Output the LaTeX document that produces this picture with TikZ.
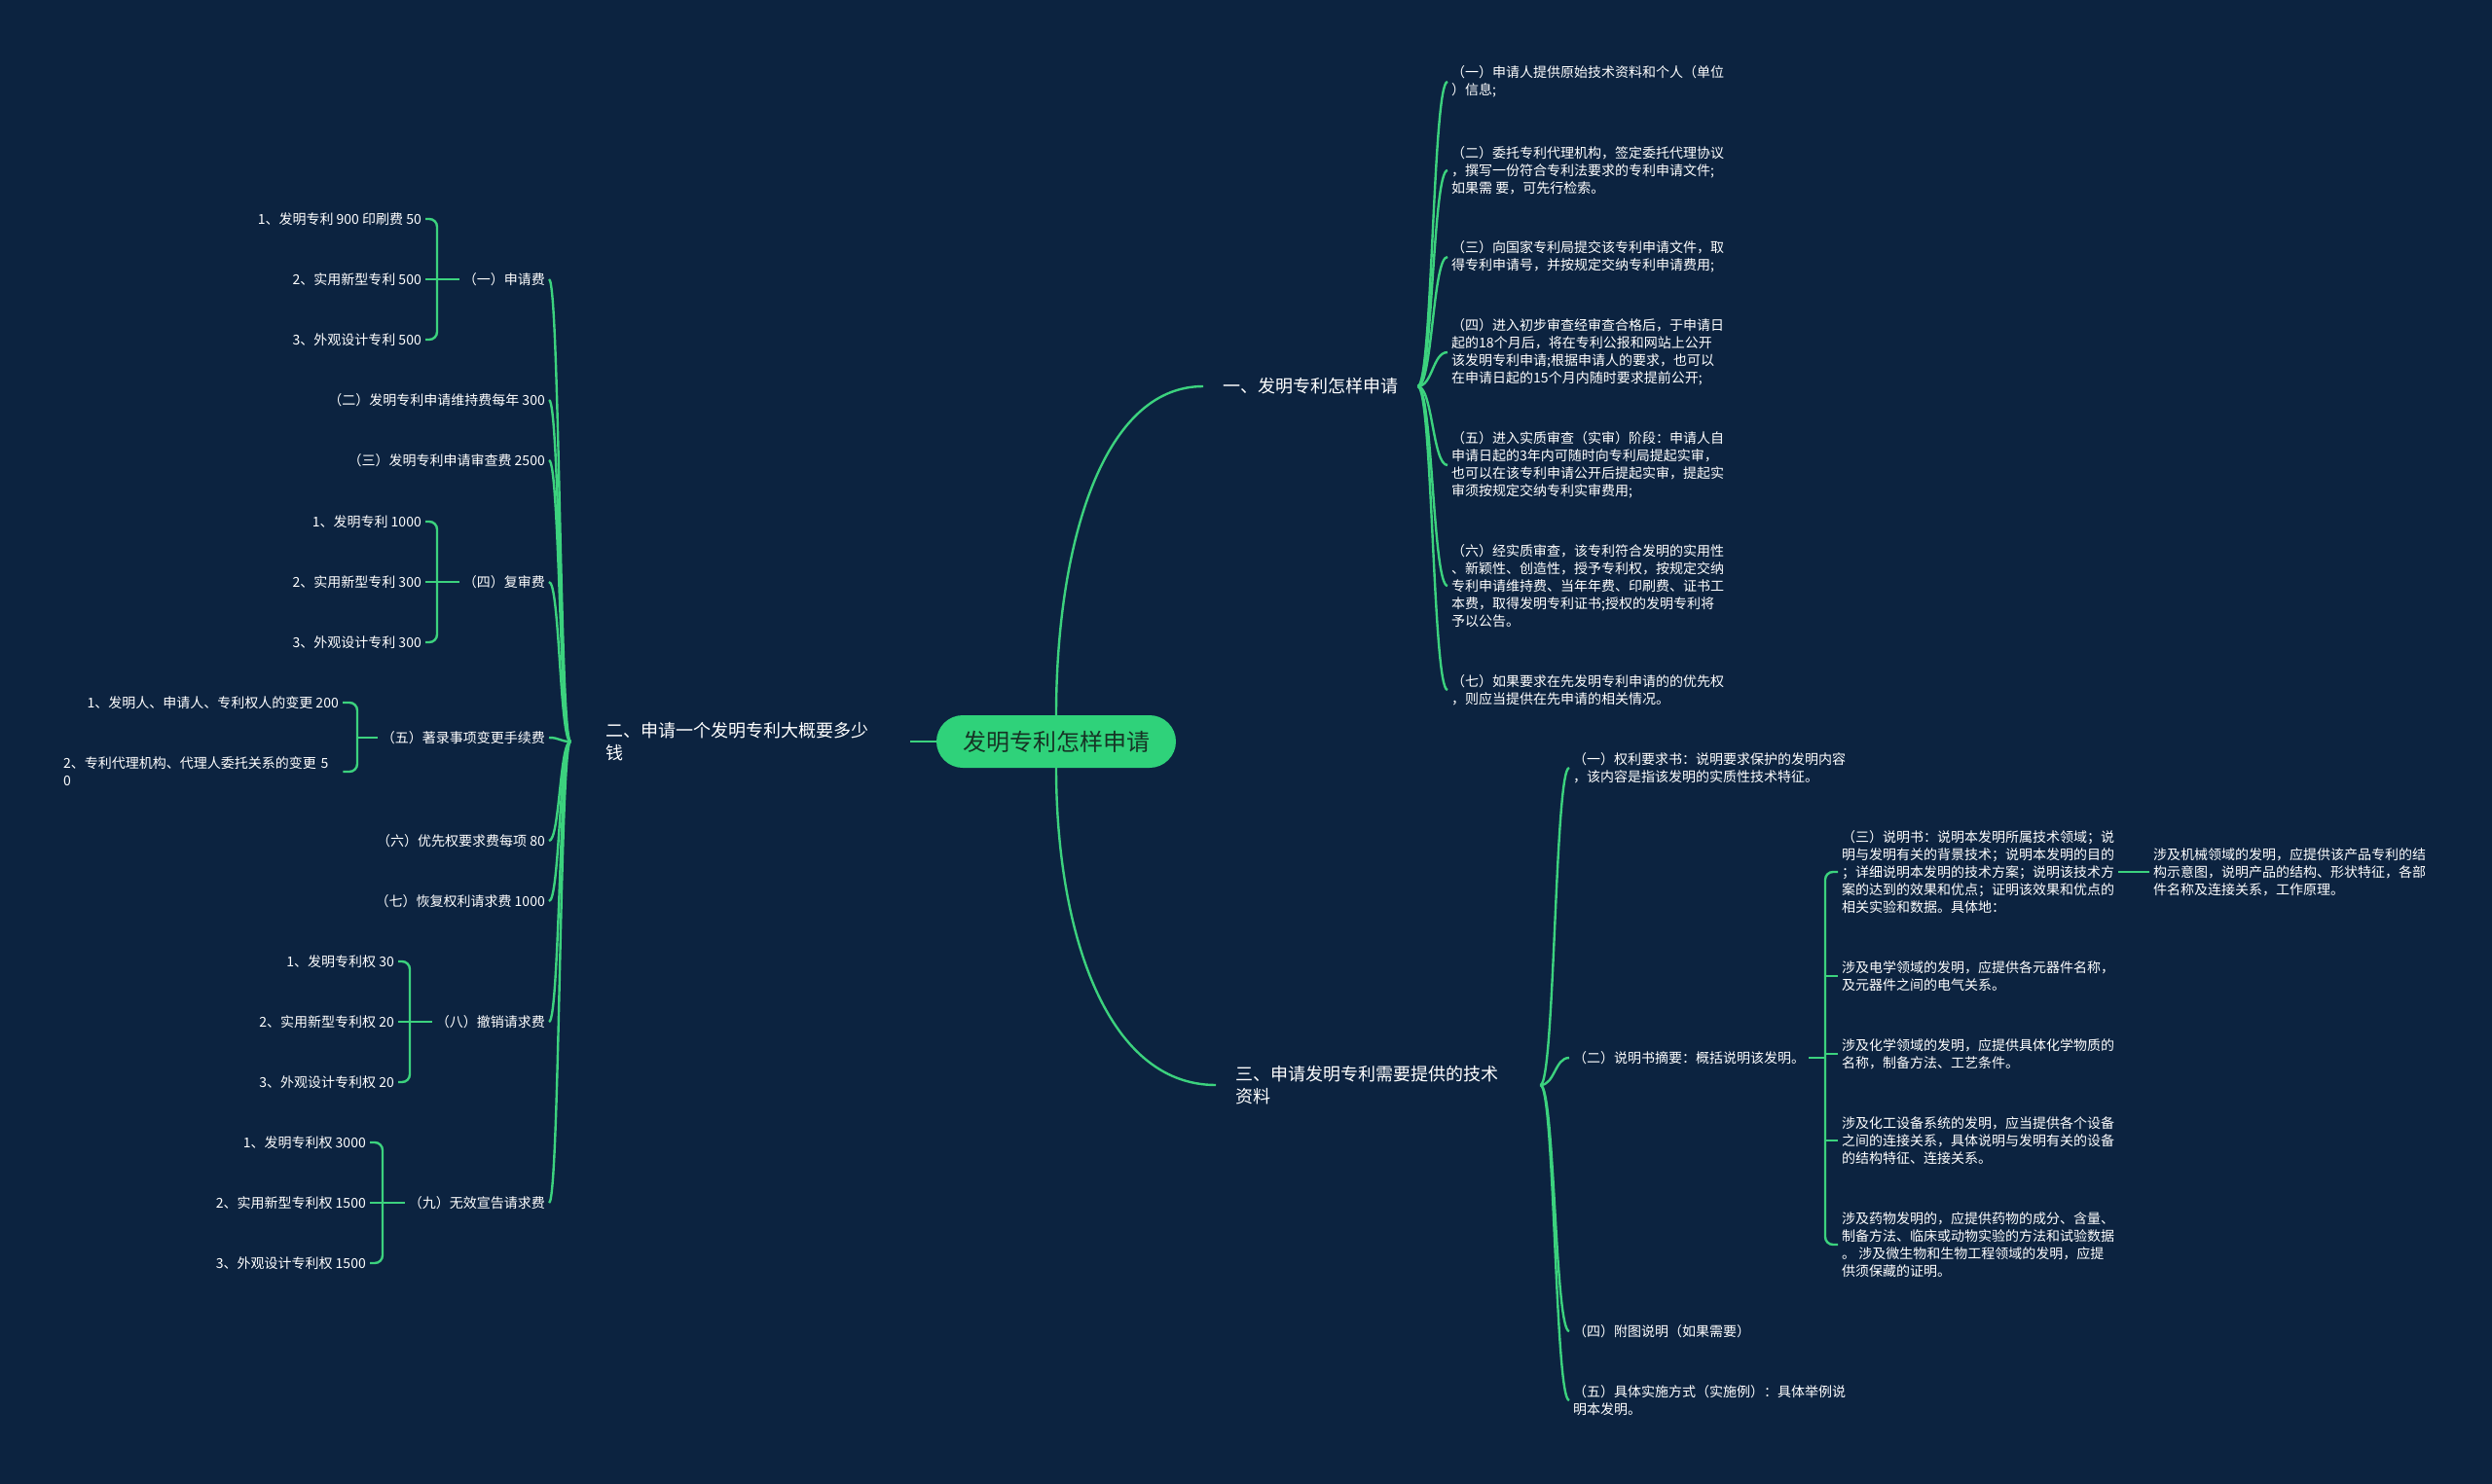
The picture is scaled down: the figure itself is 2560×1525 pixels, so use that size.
\documentclass[tikz,border=0pt]{standalone}
\usepackage{fontspec}
\setmainfont{Noto Sans CJK SC}
\usepackage{xcolor}
\usetikzlibrary{positioning,calc}
\definecolor{bgnavy}{HTML}{0C2340}
\definecolor{linegreen}{HTML}{3CD27E}
\definecolor{rootgreen}{HTML}{2FD27A}
\definecolor{rootink}{HTML}{163425}
\tikzset{
  conn/.style={draw=linegreen, line width=2.4pt},
  root/.style={fill=rootgreen, text=rootink, rounded corners=27pt, minimum width=246pt, minimum height=54pt, font=\fontsize{24}{28}\selectfont},
  topic/.style={text=white, font=\fontsize{18}{23}\selectfont, align=left, inner ysep=2pt},
  leaf/.style={text=white, font=\fontsize{14}{18}\selectfont, align=left, inner xsep=4pt, inner ysep=1pt},
}

\begin{document}
\begin{tikzpicture}[x=1pt, y=-1pt]
    \fill[bgnavy] (0,0) rectangle (2560,1525);
    \useasboundingbox (0,0) rectangle (2560,1525);

    % centre and main branches
    \node[root] (root) at (1085,762) {发明专利怎样申请};
    \node[topic, anchor=west, inner xsep=20pt] (b1) at (1236,397) {一、发明专利怎样申请};
    \node[topic, anchor=west, inner xsep=36pt, text width=277pt] (b2) at (586,762) {二、申请一个发明专利大概要多少\\钱};
    \node[topic, anchor=west, inner xsep=20pt, text width=293pt] (b3) at (1249,1115) {三、申请发明专利需要提供的技术\\资料};

    \draw[conn] (root.north) .. controls ($(root.north)!0.5!(root.north |- b1.west)$) and ($(b1.west)!0.7!(b1.west -| root.north)$) .. (b1.west);
    \draw[conn] (root.south) .. controls ($(root.south)!0.5!(root.south |- b3.west)$) and ($(b3.west)!0.7!(b3.west -| root.south)$) .. (b3.west);
    \draw[conn] (b2.east) -- (root.west);

    % branch one
    \node[leaf, anchor=west] (c11) at (1487,84) {（一）申请人提供原始技术资料和个人（单位\\）信息;};
    \node[leaf, anchor=west] (c12) at (1487,175) {（二）委托专利代理机构，签定委托代理协议\\，撰写一份符合专利法要求的专利申请文件;\\如果需 要，可先行检索。};
    \node[leaf, anchor=west] (c13) at (1487,264) {（三）向国家专利局提交该专利申请文件，取\\得专利申请号，并按规定交纳专利申请费用;};
    \node[leaf, anchor=west] (c14) at (1487,362) {（四）进入初步审查经审查合格后，于申请日\\起的18个月后，将在专利公报和网站上公开\\该发明专利申请;根据申请人的要求，也可以\\在申请日起的15个月内随时要求提前公开;};
    \node[leaf, anchor=west] (c15) at (1487,478) {（五）进入实质审查（实审）阶段：申请人自\\申请日起的3年内可随时向专利局提起实审，\\也可以在该专利申请公开后提起实审，提起实\\审须按规定交纳专利实审费用;};
    \node[leaf, anchor=west] (c16) at (1487,602) {（六）经实质审查，该专利符合发明的实用性\\、新颖性、创造性，授予专利权，按规定交纳\\专利申请维持费、当年年费、印刷费、证书工\\本费，取得发明专利证书;授权的发明专利将\\予以公告。};
    \node[leaf, anchor=west] (c17) at (1487,709) {（七）如果要求在先发明专利申请的的优先权\\，则应当提供在先申请的相关情况。};
    \foreach \kid in {c11,c12,c13,c14,c15,c16,c17}
        \draw[conn] (b1.east) .. controls ($(b1.east)!0.5!(b1.east -| \kid.west)$) and ($(\kid.west)!0.5!(\kid.west -| b1.east)$) .. (\kid.west);

    % branch two
    \node[leaf, anchor=east] (f1) at (564,287) {（一）申请费};
    \node[leaf, anchor=east] (f2) at (564,411) {（二）发明专利申请维持费每年 300};
    \node[leaf, anchor=east] (f3) at (564,473) {（三）发明专利申请审查费 2500};
    \node[leaf, anchor=east] (f4) at (564,598) {（四）复审费};
    \node[leaf, anchor=east] (f5) at (564,758) {（五）著录事项变更手续费};
    \node[leaf, anchor=east] (f6) at (564,864) {（六）优先权要求费每项 80};
    \node[leaf, anchor=east] (f7) at (564,926) {（七）恢复权利请求费 1000};
    \node[leaf, anchor=east] (f8) at (564,1050) {（八）撤销请求费};
    \node[leaf, anchor=east] (f9) at (564,1236) {（九）无效宣告请求费};
    \foreach \kid in {f1,f2,f3,f4,f5,f6,f7,f8,f9}
        \draw[conn] (b2.west) .. controls ($(b2.west)!0.5!(b2.west -| \kid.east)$) and ($(\kid.east)!0.5!(\kid.east -| b2.west)$) .. (\kid.east);

    \node[leaf, anchor=east] (s11) at (437,225) {1、发明专利 900 印刷费 50};
    \node[leaf, anchor=east] (s12) at (437,287) {2、实用新型专利 500};
    \node[leaf, anchor=east] (s13) at (437,349) {3、外观设计专利 500};
    \node[leaf, anchor=east] (s41) at (437,536) {1、发明专利 1000};
    \node[leaf, anchor=east] (s42) at (437,598) {2、实用新型专利 300};
    \node[leaf, anchor=east] (s43) at (437,660) {3、外观设计专利 300};
    \node[leaf, anchor=east] (s51) at (352,722) {1、发明人、申请人、专利权人的变更 200};
    \node[leaf, anchor=west, text width=283pt] (s52) at (61,793) {2、专利代理机构、代理人委托关系的变更 5\\0};
    \node[leaf, anchor=east] (s81) at (409,988) {1、发明专利权 30};
    \node[leaf, anchor=east] (s82) at (409,1050) {2、实用新型专利权 20};
    \node[leaf, anchor=east] (s83) at (409,1112) {3、外观设计专利权 20};
    \node[leaf, anchor=east] (s91) at (380,1174) {1、发明专利权 3000};
    \node[leaf, anchor=east] (s92) at (380,1236) {2、实用新型专利权 1500};
    \node[leaf, anchor=east] (s93) at (380,1298) {3、外观设计专利权 1500};

    \coordinate (k1) at (449,0);
    \coordinate (k5) at (367,0);
    \coordinate (k8) at (421,0);
    \coordinate (k9) at (393,0);
    \draw[conn, rounded corners=8pt] (s11.east) -- (s11.east -| k1) -- (s13.east -| k1) -- (s13.east);
    \draw[conn] (s12.east) -- (f1.west);
    \draw[conn, rounded corners=8pt] (s41.east) -- (s41.east -| k1) -- (s43.east -| k1) -- (s43.east);
    \draw[conn] (s42.east) -- (f4.west);
    \draw[conn, rounded corners=8pt] (s51.east) -- (s51.east -| k5) -- (s52.east -| k5) -- (s52.east);
    \draw[conn] (f5.west -| k5) -- (f5.west);
    \draw[conn, rounded corners=8pt] (s81.east) -- (s81.east -| k8) -- (s83.east -| k8) -- (s83.east);
    \draw[conn] (s82.east) -- (f8.west);
    \draw[conn, rounded corners=8pt] (s91.east) -- (s91.east -| k9) -- (s93.east -| k9) -- (s93.east);
    \draw[conn] (s92.east) -- (f9.west);

    % branch three
    \node[leaf, anchor=west] (t1) at (1612,789) {（一）权利要求书：说明要求保护的发明内容\\，该内容是指该发明的实质性技术特征。};
    \node[leaf, anchor=west] (t2) at (1612,1087) {（二）说明书摘要：概括说明该发明。};
    \node[leaf, anchor=west] (t4) at (1612,1368) {（四）附图说明（如果需要）};
    \node[leaf, anchor=west] (t5) at (1612,1439) {（五）具体实施方式（实施例）：具体举例说\\明本发明。};
    \foreach \kid in {t1,t2,t4,t5}
        \draw[conn] (b3.east) .. controls ($(b3.east)!0.5!(b3.east -| \kid.west)$) and ($(\kid.west)!0.5!(\kid.west -| b3.east)$) .. (\kid.west);

    \node[leaf, anchor=west] (u1) at (1888,896) {（三）说明书：说明本发明所属技术领域；说\\明与发明有关的背景技术；说明本发明的目的\\；详细说明本发明的技术方案；说明该技术方\\案的达到的效果和优点；证明该效果和优点的\\相关实验和数据。具体地：};
    \node[leaf, anchor=west] (u2) at (1888,1003) {涉及电学领域的发明，应提供各元器件名称，\\及元器件之间的电气关系。};
    \node[leaf, anchor=west] (u3) at (1888,1083) {涉及化学领域的发明，应提供具体化学物质的\\名称，制备方法、工艺条件。};
    \node[leaf, anchor=west] (u4) at (1888,1172) {涉及化工设备系统的发明，应当提供各个设备\\之间的连接关系，具体说明与发明有关的设备\\的结构特征、连接关系。};
    \node[leaf, anchor=west] (u5) at (1888,1279) {涉及药物发明的，应提供药物的成分、含量、\\制备方法、临床或动物实验的方法和试验数据\\。 涉及微生物和生物工程领域的发明，应提\\供须保藏的证明。};
    \node[leaf, anchor=west] (m1) at (2208,896) {涉及机械领域的发明，应提供该产品专利的结\\构示意图，说明产品的结构、形状特征，各部\\件名称及连接关系，工作原理。};

    \coordinate (k7) at (1875,0);
    \draw[conn, rounded corners=8pt] (u1.west) -- (u1.west -| k7) -- (u5.west -| k7) -- (u5.west);
    \foreach \kid in {u2,u3,u4}
        \draw[conn] (\kid.west -| k7) -- (\kid.west);
    \draw[conn] (t2.east) -- (t2.east -| k7);
    \draw[conn] (u1.east) -- (m1.west);
\end{tikzpicture}
\end{document}
